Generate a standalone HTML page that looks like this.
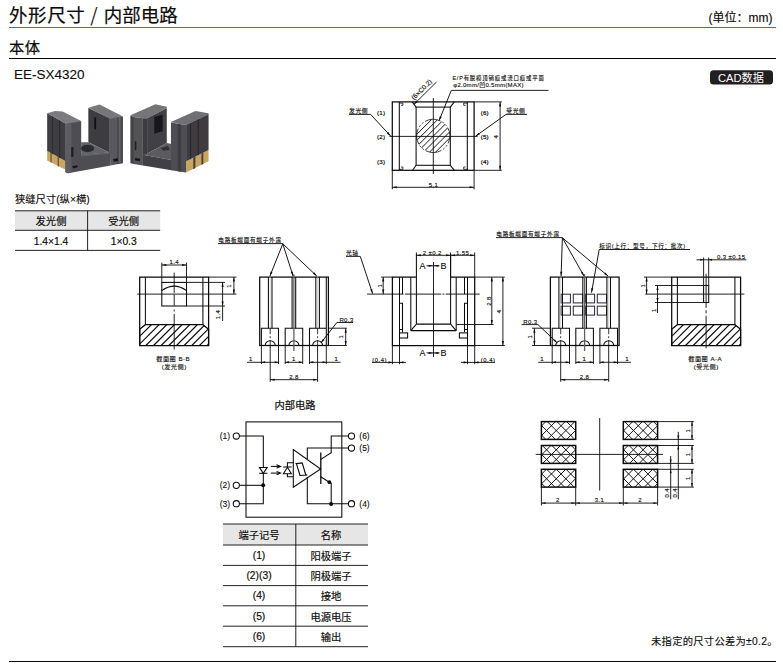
<!DOCTYPE html>
<html lang="zh-CN"><head><meta charset="utf-8"><title>外形尺寸 / 内部电路</title>
<style>
html,body{margin:0;padding:0;background:#fff}
body{width:783px;height:670px;overflow:hidden;position:relative}
svg{position:absolute;left:0;top:0;display:block}
svg text{font-family:"Liberation Sans","Noto Sans CJK SC",sans-serif}
</style></head><body>
<svg width="783" height="670" viewBox="0 0 783 670">
<defs><filter id="soft" x="-5%" y="-5%" width="110%" height="110%"><feGaussianBlur stdDeviation="0.45"/></filter></defs>
<text x="9" y="21.5" font-size="18.5" text-anchor="start" fill="#0c0a09" stroke="#0c0a09" stroke-width="0.2" letter-spacing="0.6">外形尺寸</text>
<text x="94" y="21.5" font-size="19" text-anchor="middle" fill="#231815" style="font-family:'Noto Sans CJK SC',sans-serif">/</text>
<text x="103.7" y="21.5" font-size="18.5" text-anchor="start" fill="#0c0a09" stroke="#0c0a09" stroke-width="0.2">内部电路</text>
<line x1="9" y1="27.5" x2="776" y2="27.5" stroke="#0b78f6" stroke-width="1.1"/>
<text x="772.5" y="22.2" font-size="12" text-anchor="end" fill="#0c0a09" stroke="#0c0a09" stroke-width="0.15">(单位：mm)</text>
<text x="9" y="52.5" font-size="15.3" text-anchor="start" fill="#0c0a09" stroke="#0c0a09" stroke-width="0.18" letter-spacing="0.5">本体</text>
<line x1="9" y1="58.5" x2="776" y2="58.5" stroke="#000" stroke-width="1.15"/>
<text x="14" y="78.6" font-size="13.5" text-anchor="start" fill="#0c0a09" stroke="#0c0a09" stroke-width="0.1">EE-SX4320</text>
<rect x="710" y="70.2" width="63" height="14.2" fill="#231f20" stroke="none" stroke-width="0" rx="3.5"/>
<text x="741" y="81.5" font-size="11.2" text-anchor="middle" fill="#fff">CAD数据</text>
<line x1="9" y1="661.5" x2="776" y2="661.5" stroke="#0c0a09" stroke-width="1"/>
<text x="651" y="645.3" font-size="10.3" text-anchor="start" fill="#0c0a09" stroke="#0c0a09" stroke-width="0.12" letter-spacing="0.27">未指定的尺寸公差为±0.2。</text>
<text x="15" y="203" font-size="10.3" text-anchor="start" fill="#0c0a09" stroke="#0c0a09" stroke-width="0.12">狭缝尺寸(纵×横)</text>
<rect x="15" y="210.8" width="145.2" height="19.5" fill="#e6e6e6" stroke="none" stroke-width="0"/>
<line x1="15" y1="210.8" x2="160.2" y2="210.8" stroke="#0c0a09" stroke-width="0.9"/>
<line x1="15" y1="230.3" x2="160.2" y2="230.3" stroke="#0c0a09" stroke-width="0.9"/>
<line x1="15" y1="250.4" x2="160.2" y2="250.4" stroke="#0c0a09" stroke-width="0.9"/>
<line x1="87.6" y1="210.8" x2="87.6" y2="250.4" stroke="#0c0a09" stroke-width="0.9"/>
<text x="51" y="224.5" font-size="10.3" text-anchor="middle" fill="#0c0a09" stroke="#0c0a09" stroke-width="0.17">发光侧</text>
<text x="123.7" y="224.5" font-size="10.3" text-anchor="middle" fill="#0c0a09" stroke="#0c0a09" stroke-width="0.17">受光侧</text>
<text x="51" y="244.6" font-size="10.3" text-anchor="middle" fill="#0c0a09" stroke="#0c0a09" stroke-width="0.17">1.4×1.4</text>
<text x="123.7" y="244.6" font-size="10.3" text-anchor="middle" fill="#0c0a09" stroke="#0c0a09" stroke-width="0.17">1×0.3</text>
<rect x="223" y="524" width="145" height="21" fill="#e6e6e6" stroke="none" stroke-width="0"/>
<line x1="223" y1="524" x2="368" y2="524" stroke="#0c0a09" stroke-width="0.9"/>
<line x1="223" y1="545" x2="368" y2="545" stroke="#0c0a09" stroke-width="0.9"/>
<line x1="223" y1="565.4" x2="368" y2="565.4" stroke="#0c0a09" stroke-width="0.9"/>
<line x1="223" y1="585.6" x2="368" y2="585.6" stroke="#0c0a09" stroke-width="0.9"/>
<line x1="223" y1="605.8" x2="368" y2="605.8" stroke="#0c0a09" stroke-width="0.9"/>
<line x1="223" y1="626.2" x2="368" y2="626.2" stroke="#0c0a09" stroke-width="0.9"/>
<line x1="223" y1="646.7" x2="368" y2="646.7" stroke="#0c0a09" stroke-width="0.9"/>
<line x1="295.8" y1="524" x2="295.8" y2="646.7" stroke="#0c0a09" stroke-width="0.9"/>
<text x="259" y="539.2" font-size="10.3" text-anchor="middle" fill="#0c0a09" stroke="#0c0a09" stroke-width="0.17">端子记号</text>
<text x="331" y="539.1" font-size="10.3" text-anchor="middle" fill="#0c0a09" stroke="#0c0a09" stroke-width="0.17">名称</text>
<text x="259" y="558.9" font-size="10.3" text-anchor="middle" fill="#0c0a09" stroke="#0c0a09" stroke-width="0.17">(1)</text>
<text x="331" y="559.8" font-size="10.3" text-anchor="middle" fill="#0c0a09" stroke="#0c0a09" stroke-width="0.17">阳极端子</text>
<text x="259" y="579.2" font-size="10.3" text-anchor="middle" fill="#0c0a09" stroke="#0c0a09" stroke-width="0.17">(2)(3)</text>
<text x="331" y="580.1" font-size="10.3" text-anchor="middle" fill="#0c0a09" stroke="#0c0a09" stroke-width="0.17">阴极端子</text>
<text x="259" y="599.4" font-size="10.3" text-anchor="middle" fill="#0c0a09" stroke="#0c0a09" stroke-width="0.17">(4)</text>
<text x="331" y="600.3" font-size="10.3" text-anchor="middle" fill="#0c0a09" stroke="#0c0a09" stroke-width="0.17">接地</text>
<text x="259" y="619.7" font-size="10.3" text-anchor="middle" fill="#0c0a09" stroke="#0c0a09" stroke-width="0.17">(5)</text>
<text x="331" y="620.6" font-size="10.3" text-anchor="middle" fill="#0c0a09" stroke="#0c0a09" stroke-width="0.17">电源电压</text>
<text x="259" y="640.15" font-size="10.3" text-anchor="middle" fill="#0c0a09" stroke="#0c0a09" stroke-width="0.17">(6)</text>
<text x="331" y="641.05" font-size="10.3" text-anchor="middle" fill="#0c0a09" stroke="#0c0a09" stroke-width="0.17">输出</text>
<rect x="392.3" y="101.9" width="81.8" height="68.4" fill="none" stroke="#0c0a09" stroke-width="1.25"/>
<line x1="399.3" y1="101.9" x2="399.3" y2="170.3" stroke="#0c0a09" stroke-width="1.05"/>
<line x1="467.3" y1="101.9" x2="467.3" y2="170.3" stroke="#0c0a09" stroke-width="1.05"/>
<rect x="416.1" y="107.1" width="34.2" height="58.2" fill="none" stroke="#0c0a09" stroke-width="1.05"/>
<line x1="412.2" y1="101.9" x2="416.1" y2="107.1" stroke="#0c0a09" stroke-width="1.05"/>
<line x1="454.4" y1="101.9" x2="450.3" y2="107.1" stroke="#0c0a09" stroke-width="1.05"/>
<line x1="412.6" y1="170.3" x2="416.1" y2="165.3" stroke="#0c0a09" stroke-width="1.05"/>
<line x1="454.4" y1="170.3" x2="450.3" y2="165.3" stroke="#0c0a09" stroke-width="1.05"/>
<polyline points="399.3,103.1 402.9,103.1 402.9,105.3 401.1,105.3" fill="none" stroke="#0c0a09" stroke-width="0.8"/>
<polyline points="399.3,169.3 402.9,169.3 402.9,167 401.1,167" fill="none" stroke="#0c0a09" stroke-width="0.8"/>
<polyline points="467.3,103.1 463.7,103.1 463.7,105.3 465.5,105.3" fill="none" stroke="#0c0a09" stroke-width="0.8"/>
<polyline points="467.3,169.3 463.7,169.3 463.7,167 465.5,167" fill="none" stroke="#0c0a09" stroke-width="0.8"/>
<line x1="389.5" y1="136.4" x2="477.5" y2="136.4" stroke="#0c0a09" stroke-width="0.9"/>
<line x1="433.3" y1="98" x2="433.3" y2="174" stroke="#0c0a09" stroke-width="0.9"/>
<clipPath id="hc1"><circle cx="433.25" cy="135.9" r="16.6"/></clipPath>
<g clip-path="url(#hc1)" stroke="#0c0a09" stroke-width="0.95">
<line x1="386.4" y1="152.5" x2="419.6" y2="119.3"/>
<line x1="392.5" y1="152.5" x2="425.7" y2="119.3"/>
<line x1="398.6" y1="152.5" x2="431.8" y2="119.3"/>
<line x1="404.7" y1="152.5" x2="437.9" y2="119.3"/>
<line x1="410.8" y1="152.5" x2="444" y2="119.3"/>
<line x1="416.9" y1="152.5" x2="450.1" y2="119.3"/>
<line x1="423" y1="152.5" x2="456.2" y2="119.3"/>
<line x1="429.1" y1="152.5" x2="462.3" y2="119.3"/>
<line x1="435.2" y1="152.5" x2="468.4" y2="119.3"/>
<line x1="441.3" y1="152.5" x2="474.5" y2="119.3"/>
<line x1="447.4" y1="152.5" x2="480.6" y2="119.3"/>
</g>
<circle cx="433.25" cy="135.9" r="16.6" fill="none" stroke="#0c0a09" stroke-width="0.7" stroke-dasharray="16 2 2 2 2 2" transform="rotate(150 433.25 135.9)"/>
<line x1="392.3" y1="170.3" x2="392.3" y2="189.3" stroke="#0c0a09" stroke-width="0.9"/>
<line x1="474.1" y1="170.3" x2="474.1" y2="189.3" stroke="#0c0a09" stroke-width="0.9"/>
<line x1="392.3" y1="187.3" x2="474.1" y2="187.3" stroke="#0c0a09" stroke-width="0.9"/>
<polygon points="392.3,187.3 396.8,186.25 396.8,188.35" fill="#0c0a09" stroke="none" stroke-width="0"/>
<polygon points="474.1,187.3 469.6,188.35 469.6,186.25" fill="#0c0a09" stroke="none" stroke-width="0"/>
<text x="433.5" y="187" font-size="6.0" text-anchor="middle" fill="#0c0a09" stroke="#0c0a09" stroke-width="0.13" letter-spacing="0.4">5.1</text>
<line x1="474.1" y1="101.9" x2="501.8" y2="101.9" stroke="#0c0a09" stroke-width="0.9"/>
<line x1="474.1" y1="170.3" x2="501.8" y2="170.3" stroke="#0c0a09" stroke-width="0.9"/>
<line x1="500.1" y1="101.9" x2="500.1" y2="170.3" stroke="#0c0a09" stroke-width="0.9"/>
<polygon points="500.1,101.9 501.15,106.4 499.05,106.4" fill="#0c0a09" stroke="none" stroke-width="0"/>
<polygon points="500.1,170.3 499.05,165.8 501.15,165.8" fill="#0c0a09" stroke="none" stroke-width="0"/>
<text x="498.1" y="136.5" font-size="6.0" text-anchor="middle" fill="#0c0a09" stroke="#0c0a09" stroke-width="0.13" letter-spacing="0.4" transform="rotate(-90 498.1 136.5)">4</text>
<text x="381.1" y="114.9" font-size="6.2" text-anchor="middle" fill="#0c0a09" stroke="#0c0a09" stroke-width="0.2" letter-spacing="0.15">(1)</text>
<text x="381.1" y="138.7" font-size="6.2" text-anchor="middle" fill="#0c0a09" stroke="#0c0a09" stroke-width="0.2" letter-spacing="0.15">(2)</text>
<text x="381.1" y="163.9" font-size="6.2" text-anchor="middle" fill="#0c0a09" stroke="#0c0a09" stroke-width="0.2" letter-spacing="0.15">(3)</text>
<text x="484.8" y="114.9" font-size="6.2" text-anchor="middle" fill="#0c0a09" stroke="#0c0a09" stroke-width="0.2" letter-spacing="0.15">(6)</text>
<text x="484.8" y="138.7" font-size="6.2" text-anchor="middle" fill="#0c0a09" stroke="#0c0a09" stroke-width="0.2" letter-spacing="0.15">(5)</text>
<text x="484.8" y="163.9" font-size="6.2" text-anchor="middle" fill="#0c0a09" stroke="#0c0a09" stroke-width="0.2" letter-spacing="0.15">(4)</text>
<text x="349" y="112.6" font-size="5.8" text-anchor="start" fill="#0c0a09" stroke="#0c0a09" stroke-width="0.12" letter-spacing="0.6">发光侧</text>
<line x1="349" y1="114.4" x2="370.6" y2="114.4" stroke="#0c0a09" stroke-width="0.9"/>
<line x1="370.6" y1="114.4" x2="390.6" y2="136" stroke="#0c0a09" stroke-width="0.95"/>
<polygon points="390.6,136 386.84,133.48 388.38,132.06" fill="#0c0a09" stroke="none" stroke-width="0"/>
<text x="506.3" y="112.6" font-size="5.8" text-anchor="start" fill="#0c0a09" stroke="#0c0a09" stroke-width="0.12" letter-spacing="0.6">受光侧</text>
<line x1="506" y1="114.4" x2="527" y2="114.4" stroke="#0c0a09" stroke-width="0.9"/>
<line x1="506" y1="114.4" x2="475.6" y2="136.2" stroke="#0c0a09" stroke-width="0.95"/>
<polygon points="475.6,136.2 478.56,132.78 479.79,134.49" fill="#0c0a09" stroke="none" stroke-width="0"/>
<line x1="436.4" y1="82.1" x2="413.9" y2="104.4" stroke="#0c0a09" stroke-width="0.9"/>
<polygon points="413.9,104.4 416.29,100.56 417.76,102.05" fill="#0c0a09" stroke="none" stroke-width="0"/>
<text x="423.2" y="91.2" font-size="6.6" text-anchor="middle" fill="#0c0a09" stroke="#0c0a09" stroke-width="0.13" transform="rotate(-45 423.2 91.2)">(6×C0.2)</text>
<text x="452.4" y="80.1" font-size="5.4" text-anchor="start" fill="#0c0a09" stroke="#0c0a09" stroke-width="0.12" letter-spacing="0.85">E/P有脱模顶销痕或浇口痕或平面</text>
<text x="453.2" y="87.4" font-size="6.0" text-anchor="start" fill="#0c0a09" stroke="#0c0a09" stroke-width="0.12" letter-spacing="0.3">φ2.0mm/凹0.5mm(MAX)</text>
<line x1="451.3" y1="90.4" x2="548.5" y2="90.4" stroke="#0c0a09" stroke-width="0.9"/>
<line x1="451.3" y1="90.4" x2="439.1" y2="120.6" stroke="#0c0a09" stroke-width="0.95"/>
<polygon points="439.1,120.6 439.77,116.13 441.72,116.91" fill="#0c0a09" stroke="none" stroke-width="0"/>
<polyline points="139.7,345.5 139.7,277.1 208.6,277.1 208.6,345.5" fill="none" stroke="#0c0a09" stroke-width="1.25"/>
<line x1="145.4" y1="277.1" x2="145.4" y2="324.7" stroke="#0c0a09" stroke-width="1.05"/>
<line x1="202.9" y1="277.1" x2="202.9" y2="324.7" stroke="#0c0a09" stroke-width="1.05"/>
<clipPath id="hb1"><polygon points="139.7,329.3 145.4,324.7 202.9,324.7 208.6,329.3 208.6,345.5 139.7,345.5"/></clipPath>
<g clip-path="url(#hb1)" stroke="#0c0a09" stroke-width="1.1">
<line x1="122.88" y1="345.5" x2="144.38" y2="324"/>
<line x1="130.54" y1="345.5" x2="152.04" y2="324"/>
<line x1="138.2" y1="345.5" x2="159.7" y2="324"/>
<line x1="145.86" y1="345.5" x2="167.36" y2="324"/>
<line x1="153.52" y1="345.5" x2="175.02" y2="324"/>
<line x1="161.18" y1="345.5" x2="182.68" y2="324"/>
<line x1="168.84" y1="345.5" x2="190.34" y2="324"/>
<line x1="176.5" y1="345.5" x2="198" y2="324"/>
<line x1="184.16" y1="345.5" x2="205.66" y2="324"/>
<line x1="191.82" y1="345.5" x2="213.32" y2="324"/>
<line x1="199.48" y1="345.5" x2="220.98" y2="324"/>
<line x1="207.14" y1="345.5" x2="228.64" y2="324"/>
</g>
<polygon points="139.7,329.3 145.4,324.7 202.9,324.7 208.6,329.3 208.6,345.5 139.7,345.5" fill="none" stroke="#0c0a09" stroke-width="1.25"/>
<rect x="161.8" y="282.4" width="24.7" height="23.6" fill="none" stroke="#0c0a09" stroke-width="1.05"/>
<path d="M161.8,290.6 Q174.2,281.6 186.5,290.6" fill="none" stroke="#0c0a09" stroke-width="1.05"/>
<line x1="137.3" y1="294.1" x2="208.6" y2="294.1" stroke="#0c0a09" stroke-width="0.9"/>
<line x1="174.2" y1="272.6" x2="174.2" y2="349.5" stroke="#0c0a09" stroke-width="0.9" stroke-dasharray="20.3 1.4 11.4 3.8 2 2.4 100" stroke-dashoffset="0"/>
<line x1="161.8" y1="262.6" x2="161.8" y2="282.4" stroke="#0c0a09" stroke-width="0.9"/>
<line x1="186.5" y1="262.6" x2="186.5" y2="282.4" stroke="#0c0a09" stroke-width="0.9"/>
<line x1="161.8" y1="265" x2="186.5" y2="265" stroke="#0c0a09" stroke-width="0.9"/>
<polygon points="161.8,265 166.3,263.95 166.3,266.05" fill="#0c0a09" stroke="none" stroke-width="0"/>
<polygon points="186.5,265 182,266.05 182,263.95" fill="#0c0a09" stroke="none" stroke-width="0"/>
<text x="174.2" y="263.6" font-size="6.0" text-anchor="middle" fill="#0c0a09" stroke="#0c0a09" stroke-width="0.13" letter-spacing="0.4">1.4</text>
<line x1="208.6" y1="277.1" x2="236.4" y2="277.1" stroke="#0c0a09" stroke-width="0.9"/>
<line x1="208.6" y1="294.1" x2="236.4" y2="294.1" stroke="#0c0a09" stroke-width="0.9"/>
<line x1="233.9" y1="277.1" x2="233.9" y2="294.1" stroke="#0c0a09" stroke-width="0.9"/>
<polygon points="233.9,277.1 234.95,281.6 232.85,281.6" fill="#0c0a09" stroke="none" stroke-width="0"/>
<polygon points="233.9,294.1 232.85,289.6 234.95,289.6" fill="#0c0a09" stroke="none" stroke-width="0"/>
<text x="231.5" y="285.8" font-size="6.0" text-anchor="middle" fill="#0c0a09" stroke="#0c0a09" stroke-width="0.13" letter-spacing="0.4" transform="rotate(-90 231.5 285.8)">1</text>
<line x1="186.5" y1="282.4" x2="225" y2="282.4" stroke="#0c0a09" stroke-width="0.9"/>
<line x1="186.5" y1="306" x2="225" y2="306" stroke="#0c0a09" stroke-width="0.9"/>
<line x1="222.6" y1="282.4" x2="222.6" y2="306" stroke="#0c0a09" stroke-width="0.9"/>
<polygon points="222.6,282.4 223.65,286.9 221.55,286.9" fill="#0c0a09" stroke="none" stroke-width="0"/>
<polygon points="222.6,306 221.55,301.5 223.65,301.5" fill="#0c0a09" stroke="none" stroke-width="0"/>
<line x1="222.6" y1="306" x2="222.6" y2="321" stroke="#0c0a09" stroke-width="0.9"/>
<text x="220.1" y="314.5" font-size="6.0" text-anchor="middle" fill="#0c0a09" stroke="#0c0a09" stroke-width="0.13" letter-spacing="0.4" transform="rotate(-90 220.1 314.5)">1.4</text>
<text x="173.2" y="361.3" font-size="6.2" text-anchor="middle" fill="#0c0a09" stroke="#0c0a09" stroke-width="0.12" letter-spacing="0.45">截面图 B-B</text>
<text x="174.2" y="369.3" font-size="6.2" text-anchor="middle" fill="#0c0a09" stroke="#0c0a09" stroke-width="0.12" letter-spacing="0.45">(发光侧)</text>
<rect x="259.7" y="277.1" width="68.7" height="68.4" fill="none" stroke="#0c0a09" stroke-width="1.25"/>
<line x1="268.4" y1="277.1" x2="268.4" y2="328.2" stroke="#0c0a09" stroke-width="1.05"/>
<line x1="272" y1="277.1" x2="272" y2="328.2" stroke="#0c0a09" stroke-width="1.05"/>
<line x1="292.1" y1="277.1" x2="292.1" y2="328.2" stroke="#0c0a09" stroke-width="1.05"/>
<line x1="295.7" y1="277.1" x2="295.7" y2="328.2" stroke="#0c0a09" stroke-width="1.05"/>
<line x1="315.8" y1="277.1" x2="315.8" y2="328.2" stroke="#0c0a09" stroke-width="1.05"/>
<line x1="319.4" y1="277.1" x2="319.4" y2="328.2" stroke="#0c0a09" stroke-width="1.05"/>
<polyline points="261.4,345.5 261.4,328.2 278.5,328.2 278.5,345.5" fill="none" stroke="#0c0a09" stroke-width="1.05"/>
<path d="M265.2,345.5 A5.0,4.7 0 0 1 275.2,345.5" fill="none" stroke="#0c0a09" stroke-width="1.05"/>
<polyline points="285.2,345.5 285.2,328.2 302.7,328.2 302.7,345.5" fill="none" stroke="#0c0a09" stroke-width="1.05"/>
<path d="M288.9,345.5 A5.0,4.7 0 0 1 298.9,345.5" fill="none" stroke="#0c0a09" stroke-width="1.05"/>
<polyline points="309.5,345.5 309.5,328.2 326.3,328.2 326.3,345.5" fill="none" stroke="#0c0a09" stroke-width="1.05"/>
<path d="M312.6,345.5 A5.0,4.7 0 0 1 322.6,345.5" fill="none" stroke="#0c0a09" stroke-width="1.05"/>
<line x1="326.3" y1="277.1" x2="326.3" y2="328.2" stroke="#0c0a09" stroke-width="1.05"/>
<line x1="270.2" y1="277.1" x2="270.2" y2="328.2" stroke="#b0b0b0" stroke-width="0.5"/>
<line x1="270.2" y1="328.2" x2="270.2" y2="345.5" stroke="#0c0a09" stroke-width="0.8" stroke-dasharray="6 2 2 2" stroke-dashoffset="0"/>
<line x1="317.6" y1="277.1" x2="317.6" y2="328.2" stroke="#b0b0b0" stroke-width="0.5"/>
<line x1="317.6" y1="328.2" x2="317.6" y2="345.5" stroke="#0c0a09" stroke-width="0.8" stroke-dasharray="6 2 2 2" stroke-dashoffset="0"/>
<line x1="293.9" y1="274.1" x2="293.9" y2="351" stroke="#606060" stroke-width="1.3"/>
<text x="218.3" y="242" font-size="5.6" text-anchor="start" fill="#0c0a09" stroke="#0c0a09" stroke-width="0.12" letter-spacing="0.75">电路板端面有端子外露</text>
<line x1="218" y1="243.6" x2="282.8" y2="243.6" stroke="#0c0a09" stroke-width="0.9"/>
<line x1="282.8" y1="243.8" x2="269.9" y2="276.1" stroke="#0c0a09" stroke-width="0.95"/>
<polygon points="269.9,276.1 270.56,271.62 272.51,272.4" fill="#0c0a09" stroke="none" stroke-width="0"/>
<line x1="282.8" y1="243.8" x2="293.1" y2="276.1" stroke="#0c0a09" stroke-width="0.95"/>
<polygon points="293.1,276.1 290.76,272.23 292.76,271.59" fill="#0c0a09" stroke="none" stroke-width="0"/>
<line x1="282.8" y1="243.8" x2="316.8" y2="276.1" stroke="#0c0a09" stroke-width="0.95"/>
<polygon points="316.8,276.1 312.89,273.83 314.33,272.31" fill="#0c0a09" stroke="none" stroke-width="0"/>
<text x="339.4" y="321.5" font-size="6.0" text-anchor="start" fill="#0c0a09" stroke="#0c0a09" stroke-width="0.13" letter-spacing="0.4">R0.3</text>
<line x1="336.9" y1="322.5" x2="353" y2="322.5" stroke="#0c0a09" stroke-width="0.9"/>
<line x1="336.9" y1="322.5" x2="321" y2="342.8" stroke="#0c0a09" stroke-width="0.95"/>
<polygon points="321,342.8 322.89,338.69 324.54,339.98" fill="#0c0a09" stroke="none" stroke-width="0"/>
<line x1="328.4" y1="328.2" x2="346.9" y2="328.2" stroke="#0c0a09" stroke-width="0.9"/>
<line x1="328.4" y1="345.5" x2="346.9" y2="345.5" stroke="#0c0a09" stroke-width="0.9"/>
<line x1="345.7" y1="328.2" x2="345.7" y2="345.5" stroke="#0c0a09" stroke-width="0.9"/>
<polygon points="345.7,328.2 346.75,332.7 344.65,332.7" fill="#0c0a09" stroke="none" stroke-width="0"/>
<polygon points="345.7,345.5 344.65,341 346.75,341" fill="#0c0a09" stroke="none" stroke-width="0"/>
<text x="342.7" y="336.6" font-size="6.0" text-anchor="middle" fill="#0c0a09" stroke="#0c0a09" stroke-width="0.13" letter-spacing="0.4" transform="rotate(-90 342.7 336.6)">1</text>
<line x1="261.4" y1="345.5" x2="261.4" y2="364" stroke="#0c0a09" stroke-width="0.9"/>
<line x1="278.5" y1="345.5" x2="278.5" y2="364" stroke="#0c0a09" stroke-width="0.9"/>
<line x1="285.2" y1="345.5" x2="285.2" y2="364" stroke="#0c0a09" stroke-width="0.9"/>
<line x1="302.7" y1="345.5" x2="302.7" y2="364" stroke="#0c0a09" stroke-width="0.9"/>
<line x1="309.5" y1="345.5" x2="309.5" y2="364" stroke="#0c0a09" stroke-width="0.9"/>
<line x1="326.3" y1="345.5" x2="326.3" y2="364" stroke="#0c0a09" stroke-width="0.9"/>
<line x1="247" y1="362.3" x2="278.5" y2="362.3" stroke="#0c0a09" stroke-width="0.9"/>
<line x1="285.2" y1="362.3" x2="302.7" y2="362.3" stroke="#0c0a09" stroke-width="0.9"/>
<line x1="309.5" y1="362.3" x2="340.5" y2="362.3" stroke="#0c0a09" stroke-width="0.9"/>
<polygon points="261.4,362.3 265.2,361.25 265.2,363.35" fill="#0c0a09" stroke="none" stroke-width="0"/>
<polygon points="278.5,362.3 274.7,363.35 274.7,361.25" fill="#0c0a09" stroke="none" stroke-width="0"/>
<polygon points="285.2,362.3 289,361.25 289,363.35" fill="#0c0a09" stroke="none" stroke-width="0"/>
<polygon points="302.7,362.3 298.9,363.35 298.9,361.25" fill="#0c0a09" stroke="none" stroke-width="0"/>
<polygon points="309.5,362.3 313.3,361.25 313.3,363.35" fill="#0c0a09" stroke="none" stroke-width="0"/>
<polygon points="326.3,362.3 322.5,363.35 322.5,361.25" fill="#0c0a09" stroke="none" stroke-width="0"/>
<text x="250.8" y="361.2" font-size="6.0" text-anchor="middle" fill="#0c0a09" stroke="#0c0a09" stroke-width="0.13" letter-spacing="0.4">1</text>
<text x="293.9" y="361.2" font-size="6.0" text-anchor="middle" fill="#0c0a09" stroke="#0c0a09" stroke-width="0.13" letter-spacing="0.4">1</text>
<text x="336.3" y="361.2" font-size="6.0" text-anchor="middle" fill="#0c0a09" stroke="#0c0a09" stroke-width="0.13" letter-spacing="0.4">1</text>
<line x1="270.2" y1="345.5" x2="270.2" y2="381.8" stroke="#0c0a09" stroke-width="0.9"/>
<line x1="317.6" y1="345.5" x2="317.6" y2="381.8" stroke="#0c0a09" stroke-width="0.9"/>
<line x1="270.2" y1="379.7" x2="317.6" y2="379.7" stroke="#0c0a09" stroke-width="0.9"/>
<polygon points="270.2,379.7 274.7,378.65 274.7,380.75" fill="#0c0a09" stroke="none" stroke-width="0"/>
<polygon points="317.6,379.7 313.1,380.75 313.1,378.65" fill="#0c0a09" stroke="none" stroke-width="0"/>
<text x="293.9" y="378.7" font-size="6.0" text-anchor="middle" fill="#0c0a09" stroke="#0c0a09" stroke-width="0.13" letter-spacing="0.4">2.8</text>
<polyline points="416.4,277.1 392.4,277.1 392.4,345.5 474.7,345.5 474.7,277.1 450.6,277.1" fill="none" stroke="#0c0a09" stroke-width="1.25"/>
<line x1="399.5" y1="277.1" x2="399.5" y2="345.5" stroke="#0c0a09" stroke-width="1.05"/>
<polyline points="402.5,277.1 402.5,294.1" fill="none" stroke="#0c0a09" stroke-width="1.05"/>
<polyline points="399.5,303.3 402.5,303.3 402.5,332.2" fill="none" stroke="#0c0a09" stroke-width="1.05"/>
<line x1="399.5" y1="329.5" x2="402.5" y2="329.5" stroke="#0c0a09" stroke-width="1.05"/>
<rect x="399.5" y="332.9" width="8.1" height="5.1" fill="none" stroke="#0c0a09" stroke-width="1.05"/>
<line x1="410.8" y1="277.1" x2="410.8" y2="330.6" stroke="#0c0a09" stroke-width="1.05"/>
<line x1="416.4" y1="254" x2="416.4" y2="324.1" stroke="#0c0a09" stroke-width="1.05"/>
<line x1="416.4" y1="324.1" x2="410.8" y2="330.6" stroke="#0c0a09" stroke-width="1.05"/>
<line x1="467.5" y1="277.1" x2="467.5" y2="345.5" stroke="#0c0a09" stroke-width="1.05"/>
<polyline points="464.5,277.1 464.5,294.1" fill="none" stroke="#0c0a09" stroke-width="1.05"/>
<polyline points="467.5,303.3 464.5,303.3 464.5,332.2" fill="none" stroke="#0c0a09" stroke-width="1.05"/>
<line x1="467.5" y1="329.5" x2="464.5" y2="329.5" stroke="#0c0a09" stroke-width="1.05"/>
<rect x="459.4" y="332.9" width="8.1" height="5.1" fill="none" stroke="#0c0a09" stroke-width="1.05"/>
<line x1="456.2" y1="277.1" x2="456.2" y2="330.6" stroke="#0c0a09" stroke-width="1.05"/>
<line x1="450.6" y1="254" x2="450.6" y2="324.1" stroke="#0c0a09" stroke-width="1.05"/>
<line x1="450.6" y1="324.1" x2="456.2" y2="330.6" stroke="#0c0a09" stroke-width="1.05"/>
<line x1="416.4" y1="324.1" x2="450.6" y2="324.1" stroke="#0c0a09" stroke-width="1.05"/>
<line x1="410.8" y1="330.6" x2="456.2" y2="330.6" stroke="#0c0a09" stroke-width="1.05"/>
<line x1="367" y1="294.1" x2="479.7" y2="294.1" stroke="#0c0a09" stroke-width="0.9" stroke-dasharray="36.6 1.3 36.4 1.2 2 1.2 100" stroke-dashoffset="0"/>
<line x1="433.5" y1="262" x2="433.5" y2="357" stroke="#0c0a09" stroke-width="0.9"/>
<text x="346" y="255.4" font-size="5.7" text-anchor="start" fill="#0c0a09" stroke="#0c0a09" stroke-width="0.12" letter-spacing="0.6">光轴</text>
<line x1="346" y1="256.4" x2="360.3" y2="256.4" stroke="#0c0a09" stroke-width="0.9"/>
<line x1="360.3" y1="256.4" x2="372.6" y2="293.6" stroke="#0c0a09" stroke-width="0.95"/>
<polygon points="372.6,293.6 370.22,289.75 372.22,289.09" fill="#0c0a09" stroke="none" stroke-width="0"/>
<line x1="381.2" y1="277.1" x2="392.4" y2="277.1" stroke="#0c0a09" stroke-width="0.9"/>
<line x1="383.2" y1="277.1" x2="383.2" y2="294.1" stroke="#0c0a09" stroke-width="0.9"/>
<polygon points="383.2,277.1 384.25,281.6 382.15,281.6" fill="#0c0a09" stroke="none" stroke-width="0"/>
<polygon points="383.2,294.1 382.15,289.6 384.25,289.6" fill="#0c0a09" stroke="none" stroke-width="0"/>
<text x="381.6" y="285.7" font-size="6.0" text-anchor="middle" fill="#0c0a09" stroke="#0c0a09" stroke-width="0.13" letter-spacing="0.4" transform="rotate(-90 381.6 285.7)">1</text>
<line x1="450.6" y1="252.4" x2="450.6" y2="277.1" stroke="#0c0a09" stroke-width="0.9"/>
<line x1="474.7" y1="252.4" x2="474.7" y2="277.1" stroke="#0c0a09" stroke-width="0.9"/>
<line x1="416.4" y1="252.4" x2="416.4" y2="254" stroke="#0c0a09" stroke-width="0.9"/>
<line x1="416.4" y1="255.3" x2="450.6" y2="255.3" stroke="#0c0a09" stroke-width="0.9"/>
<polygon points="416.4,255.3 420.9,254.25 420.9,256.35" fill="#0c0a09" stroke="none" stroke-width="0"/>
<polygon points="450.6,255.3 446.1,256.35 446.1,254.25" fill="#0c0a09" stroke="none" stroke-width="0"/>
<line x1="450.6" y1="255.3" x2="474.7" y2="255.3" stroke="#0c0a09" stroke-width="0.9"/>
<polygon points="450.6,255.3 455.1,254.25 455.1,256.35" fill="#0c0a09" stroke="none" stroke-width="0"/>
<polygon points="474.7,255.3 470.2,256.35 470.2,254.25" fill="#0c0a09" stroke="none" stroke-width="0"/>
<text x="432.2" y="254.9" font-size="6.0" text-anchor="middle" fill="#0c0a09" stroke="#0c0a09" stroke-width="0.13" letter-spacing="0.4">2 ±0.2</text>
<text x="462.6" y="254.9" font-size="6.0" text-anchor="middle" fill="#0c0a09" stroke="#0c0a09" stroke-width="0.13" letter-spacing="0.4">1.55</text>
<text x="422.5" y="268.9" font-size="9" text-anchor="middle" fill="#0c0a09" stroke="#0c0a09" stroke-width="0.1">A</text>
<text x="443.4" y="268.9" font-size="9" text-anchor="middle" fill="#0c0a09" stroke="#0c0a09" stroke-width="0.1">B</text>
<line x1="426.5" y1="265.8" x2="439.5" y2="265.8" stroke="#0c0a09" stroke-width="0.9"/>
<polygon points="433.2,265.8 428.6,266.8 428.6,264.8" fill="#0c0a09" stroke="none" stroke-width="0"/>
<polygon points="433.8,265.8 438.4,264.8 438.4,266.8" fill="#0c0a09" stroke="none" stroke-width="0"/>
<text x="422.5" y="356" font-size="9" text-anchor="middle" fill="#0c0a09" stroke="#0c0a09" stroke-width="0.1">A</text>
<text x="443.4" y="356" font-size="9" text-anchor="middle" fill="#0c0a09" stroke="#0c0a09" stroke-width="0.1">B</text>
<line x1="426.5" y1="352.9" x2="439.5" y2="352.9" stroke="#0c0a09" stroke-width="0.9"/>
<polygon points="433.2,352.9 428.6,353.9 428.6,351.9" fill="#0c0a09" stroke="none" stroke-width="0"/>
<polygon points="433.8,352.9 438.4,351.9 438.4,353.9" fill="#0c0a09" stroke="none" stroke-width="0"/>
<line x1="456.2" y1="324.5" x2="493.5" y2="324.5" stroke="#0c0a09" stroke-width="0.9"/>
<line x1="474.7" y1="277.1" x2="504.8" y2="277.1" stroke="#0c0a09" stroke-width="0.9"/>
<line x1="474.7" y1="345.5" x2="504.8" y2="345.5" stroke="#0c0a09" stroke-width="0.9"/>
<line x1="491.8" y1="277.1" x2="491.8" y2="324.5" stroke="#0c0a09" stroke-width="0.9"/>
<polygon points="491.8,277.1 492.85,281.6 490.75,281.6" fill="#0c0a09" stroke="none" stroke-width="0"/>
<polygon points="491.8,324.5 490.75,320 492.85,320" fill="#0c0a09" stroke="none" stroke-width="0"/>
<text x="491" y="301" font-size="6.0" text-anchor="middle" fill="#0c0a09" stroke="#0c0a09" stroke-width="0.13" letter-spacing="0.4" transform="rotate(-90 491 301)">2.8</text>
<line x1="502.9" y1="277.1" x2="502.9" y2="345.5" stroke="#0c0a09" stroke-width="0.9"/>
<polygon points="502.9,277.1 503.95,281.6 501.85,281.6" fill="#0c0a09" stroke="none" stroke-width="0"/>
<polygon points="502.9,345.5 501.85,341 503.95,341" fill="#0c0a09" stroke="none" stroke-width="0"/>
<text x="501.4" y="311.3" font-size="6.0" text-anchor="middle" fill="#0c0a09" stroke="#0c0a09" stroke-width="0.13" letter-spacing="0.4" transform="rotate(-90 501.4 311.3)">4</text>
<line x1="392.4" y1="345.5" x2="392.4" y2="364.2" stroke="#0c0a09" stroke-width="0.9"/>
<line x1="399.5" y1="345.5" x2="399.5" y2="364.2" stroke="#0c0a09" stroke-width="0.9"/>
<line x1="474.7" y1="345.5" x2="474.7" y2="364.2" stroke="#0c0a09" stroke-width="0.9"/>
<line x1="467.5" y1="345.5" x2="467.5" y2="364.2" stroke="#0c0a09" stroke-width="0.9"/>
<line x1="372" y1="362.4" x2="406" y2="362.4" stroke="#0c0a09" stroke-width="0.9"/>
<polygon points="392.4,362.4 388.6,363.45 388.6,361.35" fill="#0c0a09" stroke="none" stroke-width="0"/>
<polygon points="399.5,362.4 403.3,361.35 403.3,363.45" fill="#0c0a09" stroke="none" stroke-width="0"/>
<line x1="461" y1="362.4" x2="495" y2="362.4" stroke="#0c0a09" stroke-width="0.9"/>
<polygon points="467.5,362.4 463.7,363.45 463.7,361.35" fill="#0c0a09" stroke="none" stroke-width="0"/>
<polygon points="474.7,362.4 478.5,361.35 478.5,363.45" fill="#0c0a09" stroke="none" stroke-width="0"/>
<text x="379.6" y="361.5" font-size="5.9" text-anchor="middle" fill="#0c0a09" stroke="#0c0a09" stroke-width="0.13" letter-spacing="0.5">(0.4)</text>
<text x="488.1" y="361.5" font-size="5.9" text-anchor="middle" fill="#0c0a09" stroke="#0c0a09" stroke-width="0.13" letter-spacing="0.5">(0.4)</text>
<rect x="561.1" y="294.2" width="9.3" height="8.7" fill="none" stroke="#26263a" stroke-width="1.0"/>
<rect x="561.1" y="306.2" width="9.3" height="8.9" fill="none" stroke="#26263a" stroke-width="1.0"/>
<rect x="573.3" y="294.2" width="9.3" height="8.7" fill="none" stroke="#26263a" stroke-width="1.0"/>
<rect x="573.3" y="306.2" width="9.3" height="8.9" fill="none" stroke="#26263a" stroke-width="1.0"/>
<rect x="585.6" y="294.2" width="9" height="8.7" fill="none" stroke="#26263a" stroke-width="1.0"/>
<rect x="585.6" y="306.2" width="9" height="8.9" fill="none" stroke="#26263a" stroke-width="1.0"/>
<rect x="597.3" y="294.2" width="9.2" height="8.7" fill="none" stroke="#26263a" stroke-width="1.0"/>
<rect x="597.3" y="306.2" width="9.2" height="8.9" fill="none" stroke="#26263a" stroke-width="1.0"/>
<rect x="550.4" y="277.1" width="68.7" height="68.4" fill="none" stroke="#0c0a09" stroke-width="1.25"/>
<line x1="558.9" y1="277.1" x2="558.9" y2="328.2" stroke="#0c0a09" stroke-width="1.05"/>
<line x1="562.5" y1="277.1" x2="562.5" y2="328.2" stroke="#0c0a09" stroke-width="1.05"/>
<line x1="582.8" y1="277.1" x2="582.8" y2="328.2" stroke="#0c0a09" stroke-width="1.05"/>
<line x1="586.4" y1="277.1" x2="586.4" y2="328.2" stroke="#0c0a09" stroke-width="1.05"/>
<line x1="606.9" y1="277.1" x2="606.9" y2="328.2" stroke="#0c0a09" stroke-width="1.05"/>
<line x1="610.5" y1="277.1" x2="610.5" y2="328.2" stroke="#0c0a09" stroke-width="1.05"/>
<polyline points="552.2,345.5 552.2,328.2 569.5,328.2 569.5,345.5" fill="none" stroke="#0c0a09" stroke-width="1.05"/>
<path d="M555.7,345.5 A5.0,4.7 0 0 1 565.7,345.5" fill="none" stroke="#0c0a09" stroke-width="1.05"/>
<polyline points="575.8,345.5 575.8,328.2 593.4,328.2 593.4,345.5" fill="none" stroke="#0c0a09" stroke-width="1.05"/>
<path d="M579.6,345.5 A5.0,4.7 0 0 1 589.6,345.5" fill="none" stroke="#0c0a09" stroke-width="1.05"/>
<polyline points="599.9,345.5 599.9,328.2 617.5,328.2 617.5,345.5" fill="none" stroke="#0c0a09" stroke-width="1.05"/>
<path d="M603.7,345.5 A5.0,4.7 0 0 1 613.7,345.5" fill="none" stroke="#0c0a09" stroke-width="1.05"/>
<line x1="560.7" y1="277.1" x2="560.7" y2="328.2" stroke="#b0b0b0" stroke-width="0.5"/>
<line x1="560.7" y1="328.2" x2="560.7" y2="345.5" stroke="#0c0a09" stroke-width="0.8" stroke-dasharray="6 2 2 2" stroke-dashoffset="0"/>
<line x1="608.7" y1="277.1" x2="608.7" y2="328.2" stroke="#b0b0b0" stroke-width="0.5"/>
<line x1="608.7" y1="328.2" x2="608.7" y2="345.5" stroke="#0c0a09" stroke-width="0.8" stroke-dasharray="6 2 2 2" stroke-dashoffset="0"/>
<line x1="584.6" y1="274.1" x2="584.6" y2="351" stroke="#606060" stroke-width="1.3"/>
<text x="496.3" y="236.3" font-size="5.6" text-anchor="start" fill="#0c0a09" stroke="#0c0a09" stroke-width="0.12" letter-spacing="0.75">电路板端面有端子外露</text>
<line x1="496" y1="237.6" x2="562.4" y2="237.6" stroke="#0c0a09" stroke-width="0.9"/>
<line x1="562.4" y1="237.8" x2="561.1" y2="276.1" stroke="#0c0a09" stroke-width="0.95"/>
<polygon points="561.1,276.1 560.2,271.67 562.3,271.74" fill="#0c0a09" stroke="none" stroke-width="0"/>
<line x1="562.4" y1="237.8" x2="584" y2="276.1" stroke="#0c0a09" stroke-width="0.95"/>
<polygon points="584,276.1 580.92,272.78 582.75,271.75" fill="#0c0a09" stroke="none" stroke-width="0"/>
<line x1="562.4" y1="237.8" x2="608.1" y2="276.1" stroke="#0c0a09" stroke-width="0.95"/>
<polygon points="608.1,276.1 604.05,274.08 605.4,272.47" fill="#0c0a09" stroke="none" stroke-width="0"/>
<text x="599.2" y="248.2" font-size="5.6" text-anchor="start" fill="#0c0a09" stroke="#0c0a09" stroke-width="0.12" letter-spacing="0.68">标识(上行：型号，下行：批次)</text>
<line x1="599.2" y1="249.5" x2="690" y2="249.5" stroke="#0c0a09" stroke-width="0.9"/>
<line x1="599.2" y1="249.5" x2="591.5" y2="292.6" stroke="#0c0a09" stroke-width="0.95"/>
<polygon points="591.5,292.6 591.24,288.08 593.31,288.45" fill="#0c0a09" stroke="none" stroke-width="0"/>
<text x="523.2" y="323.9" font-size="6.0" text-anchor="start" fill="#0c0a09" stroke="#0c0a09" stroke-width="0.13" letter-spacing="0.4">R0.3</text>
<line x1="521.6" y1="324.6" x2="538" y2="324.6" stroke="#0c0a09" stroke-width="0.9"/>
<line x1="538" y1="324.6" x2="557.3" y2="343" stroke="#0c0a09" stroke-width="0.95"/>
<polygon points="557.3,343 553.39,340.72 554.84,339.2" fill="#0c0a09" stroke="none" stroke-width="0"/>
<line x1="532" y1="328.2" x2="550.4" y2="328.2" stroke="#0c0a09" stroke-width="0.9"/>
<line x1="532" y1="345.5" x2="550.4" y2="345.5" stroke="#0c0a09" stroke-width="0.9"/>
<line x1="534.4" y1="328.2" x2="534.4" y2="345.5" stroke="#0c0a09" stroke-width="0.9"/>
<polygon points="534.4,328.2 535.45,332.7 533.35,332.7" fill="#0c0a09" stroke="none" stroke-width="0"/>
<polygon points="534.4,345.5 533.35,341 535.45,341" fill="#0c0a09" stroke="none" stroke-width="0"/>
<text x="531.8" y="336.6" font-size="6.0" text-anchor="middle" fill="#0c0a09" stroke="#0c0a09" stroke-width="0.13" letter-spacing="0.4" transform="rotate(-90 531.8 336.6)">1</text>
<line x1="552.2" y1="345.5" x2="552.2" y2="364" stroke="#0c0a09" stroke-width="0.9"/>
<line x1="569.5" y1="345.5" x2="569.5" y2="364" stroke="#0c0a09" stroke-width="0.9"/>
<line x1="575.8" y1="345.5" x2="575.8" y2="364" stroke="#0c0a09" stroke-width="0.9"/>
<line x1="593.4" y1="345.5" x2="593.4" y2="364" stroke="#0c0a09" stroke-width="0.9"/>
<line x1="599.9" y1="345.5" x2="599.9" y2="364" stroke="#0c0a09" stroke-width="0.9"/>
<line x1="617.5" y1="345.5" x2="617.5" y2="364" stroke="#0c0a09" stroke-width="0.9"/>
<line x1="538.2" y1="362.3" x2="569.5" y2="362.3" stroke="#0c0a09" stroke-width="0.9"/>
<line x1="575.8" y1="362.3" x2="593.4" y2="362.3" stroke="#0c0a09" stroke-width="0.9"/>
<line x1="599.9" y1="362.3" x2="631" y2="362.3" stroke="#0c0a09" stroke-width="0.9"/>
<polygon points="552.2,362.3 556,361.25 556,363.35" fill="#0c0a09" stroke="none" stroke-width="0"/>
<polygon points="569.5,362.3 565.7,363.35 565.7,361.25" fill="#0c0a09" stroke="none" stroke-width="0"/>
<polygon points="575.8,362.3 579.6,361.25 579.6,363.35" fill="#0c0a09" stroke="none" stroke-width="0"/>
<polygon points="593.4,362.3 589.6,363.35 589.6,361.25" fill="#0c0a09" stroke="none" stroke-width="0"/>
<polygon points="599.9,362.3 603.7,361.25 603.7,363.35" fill="#0c0a09" stroke="none" stroke-width="0"/>
<polygon points="617.5,362.3 613.7,363.35 613.7,361.25" fill="#0c0a09" stroke="none" stroke-width="0"/>
<text x="542" y="361.2" font-size="6.0" text-anchor="middle" fill="#0c0a09" stroke="#0c0a09" stroke-width="0.13" letter-spacing="0.4">1</text>
<text x="584.4" y="361.2" font-size="6.0" text-anchor="middle" fill="#0c0a09" stroke="#0c0a09" stroke-width="0.13" letter-spacing="0.4">1</text>
<text x="627.1" y="361.2" font-size="6.0" text-anchor="middle" fill="#0c0a09" stroke="#0c0a09" stroke-width="0.13" letter-spacing="0.4">1</text>
<line x1="560.7" y1="345.5" x2="560.7" y2="381.8" stroke="#0c0a09" stroke-width="0.9"/>
<line x1="608.7" y1="345.5" x2="608.7" y2="381.8" stroke="#0c0a09" stroke-width="0.9"/>
<line x1="560.7" y1="379.7" x2="608.7" y2="379.7" stroke="#0c0a09" stroke-width="0.9"/>
<polygon points="560.7,379.7 565.2,378.65 565.2,380.75" fill="#0c0a09" stroke="none" stroke-width="0"/>
<polygon points="608.7,379.7 604.2,380.75 604.2,378.65" fill="#0c0a09" stroke="none" stroke-width="0"/>
<text x="584.6" y="378.7" font-size="6.0" text-anchor="middle" fill="#0c0a09" stroke="#0c0a09" stroke-width="0.13" letter-spacing="0.4">2.8</text>
<polyline points="671.7,345.5 671.7,277.1 740.6,277.1 740.6,345.5" fill="none" stroke="#0c0a09" stroke-width="1.25"/>
<line x1="677.4" y1="277.1" x2="677.4" y2="324.7" stroke="#0c0a09" stroke-width="1.05"/>
<line x1="734.9" y1="277.1" x2="734.9" y2="324.7" stroke="#0c0a09" stroke-width="1.05"/>
<clipPath id="hb5"><polygon points="671.7,329.3 677.4,324.7 734.9,324.7 740.6,329.3 740.6,345.5 671.7,345.5"/></clipPath>
<g clip-path="url(#hb5)" stroke="#0c0a09" stroke-width="1.1">
<line x1="654.88" y1="345.5" x2="676.38" y2="324"/>
<line x1="662.54" y1="345.5" x2="684.04" y2="324"/>
<line x1="670.2" y1="345.5" x2="691.7" y2="324"/>
<line x1="677.86" y1="345.5" x2="699.36" y2="324"/>
<line x1="685.52" y1="345.5" x2="707.02" y2="324"/>
<line x1="693.18" y1="345.5" x2="714.68" y2="324"/>
<line x1="700.84" y1="345.5" x2="722.34" y2="324"/>
<line x1="708.5" y1="345.5" x2="730" y2="324"/>
<line x1="716.16" y1="345.5" x2="737.66" y2="324"/>
<line x1="723.82" y1="345.5" x2="745.32" y2="324"/>
<line x1="731.48" y1="345.5" x2="752.98" y2="324"/>
<line x1="739.14" y1="345.5" x2="760.64" y2="324"/>
</g>
<polygon points="671.7,329.3 677.4,324.7 734.9,324.7 740.6,329.3 740.6,345.5 671.7,345.5" fill="none" stroke="#0c0a09" stroke-width="1.25"/>
<rect x="703.6" y="285.5" width="5.1" height="17" fill="none" stroke="#0c0a09" stroke-width="1.05"/>
<line x1="645.2" y1="294.1" x2="744.4" y2="294.1" stroke="#0c0a09" stroke-width="0.9"/>
<line x1="706.1" y1="273.8" x2="706.1" y2="348.3" stroke="#0c0a09" stroke-width="0.9" stroke-dasharray="34 2.5 3 2.5" stroke-dashoffset="0"/>
<line x1="703.6" y1="257.5" x2="703.6" y2="285.5" stroke="#0c0a09" stroke-width="0.9"/>
<line x1="708.7" y1="257.5" x2="708.7" y2="285.5" stroke="#0c0a09" stroke-width="0.9"/>
<line x1="696.5" y1="259.8" x2="746.3" y2="259.8" stroke="#0c0a09" stroke-width="0.9"/>
<polygon points="703.6,259.8 700.2,260.85 700.2,258.75" fill="#0c0a09" stroke="none" stroke-width="0"/>
<polygon points="708.7,259.8 712.1,258.75 712.1,260.85" fill="#0c0a09" stroke="none" stroke-width="0"/>
<text x="717" y="258.9" font-size="6.0" text-anchor="start" fill="#0c0a09" stroke="#0c0a09" stroke-width="0.13" letter-spacing="0.4">0.3 ±0.15</text>
<line x1="644" y1="277.1" x2="671.7" y2="277.1" stroke="#0c0a09" stroke-width="0.9"/>
<line x1="646.6" y1="277.1" x2="646.6" y2="294.1" stroke="#0c0a09" stroke-width="0.9"/>
<polygon points="646.6,277.1 647.65,281.6 645.55,281.6" fill="#0c0a09" stroke="none" stroke-width="0"/>
<polygon points="646.6,294.1 645.55,289.6 647.65,289.6" fill="#0c0a09" stroke="none" stroke-width="0"/>
<text x="645" y="285.6" font-size="6.0" text-anchor="middle" fill="#0c0a09" stroke="#0c0a09" stroke-width="0.13" letter-spacing="0.4" transform="rotate(-90 645 285.6)">1</text>
<line x1="655" y1="285.5" x2="703.6" y2="285.5" stroke="#0c0a09" stroke-width="0.9"/>
<line x1="655" y1="302.5" x2="703.6" y2="302.5" stroke="#0c0a09" stroke-width="0.9"/>
<line x1="657.5" y1="285.5" x2="657.5" y2="302.5" stroke="#0c0a09" stroke-width="0.9"/>
<polygon points="657.5,285.5 658.55,290 656.45,290" fill="#0c0a09" stroke="none" stroke-width="0"/>
<polygon points="657.5,302.5 656.45,298 658.55,298" fill="#0c0a09" stroke="none" stroke-width="0"/>
<line x1="657.5" y1="302.5" x2="657.5" y2="313" stroke="#0c0a09" stroke-width="0.9"/>
<text x="655.9" y="310" font-size="6.0" text-anchor="middle" fill="#0c0a09" stroke="#0c0a09" stroke-width="0.13" letter-spacing="0.4" transform="rotate(-90 655.9 310)">1</text>
<text x="705.2" y="361.3" font-size="6.2" text-anchor="middle" fill="#0c0a09" stroke="#0c0a09" stroke-width="0.12" letter-spacing="0.45">截面图 A-A</text>
<text x="706.2" y="369.3" font-size="6.2" text-anchor="middle" fill="#0c0a09" stroke="#0c0a09" stroke-width="0.12" letter-spacing="0.45">(受光侧)</text>
<text x="295" y="409.2" font-size="10.3" text-anchor="middle" fill="#0c0a09" stroke="#0c0a09" stroke-width="0.2">内部电路</text>
<rect x="246" y="421.9" width="95.8" height="95.3" fill="none" stroke="#0c0a09" stroke-width="1.05"/>
<polyline points="239.2,436 263.3,436 263.3,503.7 239.2,503.7" fill="none" stroke="#0c0a09" stroke-width="1.05"/>
<line x1="239.2" y1="485.3" x2="263.3" y2="485.3" stroke="#0c0a09" stroke-width="1.05"/>
<circle cx="263.2" cy="485.3" r="2.0" fill="#0c0a09"/>
<polygon points="259.4,467.4 267.2,467.4 263.3,473.2" fill="#fff" stroke="#0c0a09" stroke-width="1.05"/>
<line x1="259.2" y1="473.3" x2="267.4" y2="473.3" stroke="#0c0a09" stroke-width="1.05"/>
<line x1="270.8" y1="466.4" x2="280" y2="466.4" stroke="#0c0a09" stroke-width="1.05"/>
<polyline points="276.6,464.7 280.6,466.4 276.6,468.1" fill="none" stroke="#0c0a09" stroke-width="1.05"/>
<line x1="270.8" y1="473.1" x2="280" y2="473.1" stroke="#0c0a09" stroke-width="1.05"/>
<polyline points="276.6,471.4 280.6,473.1 276.6,474.8" fill="none" stroke="#0c0a09" stroke-width="1.05"/>
<polygon points="283.4,473.8 291.4,473.8 287.4,467.2" fill="#fff" stroke="#0c0a09" stroke-width="1.05"/>
<line x1="283.2" y1="467" x2="291.6" y2="467" stroke="#0c0a09" stroke-width="1.05"/>
<polyline points="287.4,467 287.4,462.8 293.2,462.8" fill="none" stroke="#0c0a09" stroke-width="1.05"/>
<polyline points="287.4,473.8 287.4,476.7 293.2,476.7" fill="none" stroke="#0c0a09" stroke-width="1.05"/>
<polygon points="293.3,449.5 293.3,487.2 320.6,469" fill="none" stroke="#0c0a09" stroke-width="1.05"/>
<polygon points="296.4,463.6 302.2,462.9 305.8,475 300,475.5" fill="none" stroke="#0c0a09" stroke-width="1.15"/>
<line x1="305.5" y1="475" x2="307.3" y2="475" stroke="#0c0a09" stroke-width="1.05"/>
<line x1="295.6" y1="463.5" x2="296.8" y2="463.5" stroke="#0c0a09" stroke-width="1.05"/>
<polyline points="348.6,448 307.3,448 307.3,459" fill="none" stroke="#0c0a09" stroke-width="1.05"/>
<polyline points="307.3,477.5 307.3,503.7 348.6,503.7" fill="none" stroke="#0c0a09" stroke-width="1.05"/>
<line x1="320.8" y1="452.6" x2="320.8" y2="483.9" stroke="#0c0a09" stroke-width="1.3"/>
<polyline points="320.8,459.4 331.2,452.6 331.2,436 348.6,436" fill="none" stroke="#0c0a09" stroke-width="1.05"/>
<polyline points="320.8,476.7 331.2,483.5 331.2,503.7" fill="none" stroke="#0c0a09" stroke-width="1.05"/>
<circle cx="329.4" cy="482.2" r="1.9" fill="#0c0a09"/>
<circle cx="331.1" cy="503.9" r="2.0" fill="#0c0a09"/>
<circle cx="236.3" cy="436" r="3.1" fill="#fff" stroke="#0c0a09" stroke-width="1.05"/>
<circle cx="236.3" cy="485.3" r="3.1" fill="#fff" stroke="#0c0a09" stroke-width="1.05"/>
<circle cx="236.3" cy="503.7" r="3.1" fill="#fff" stroke="#0c0a09" stroke-width="1.05"/>
<circle cx="351.5" cy="436" r="3.1" fill="#fff" stroke="#0c0a09" stroke-width="1.05"/>
<circle cx="351.5" cy="448" r="3.1" fill="#fff" stroke="#0c0a09" stroke-width="1.05"/>
<circle cx="351.5" cy="503.7" r="3.1" fill="#fff" stroke="#0c0a09" stroke-width="1.05"/>
<text x="224.9" y="438.9" font-size="8.5" text-anchor="middle" fill="#0c0a09" stroke="#0c0a09" stroke-width="0.1">(1)</text>
<text x="224.9" y="488.2" font-size="8.5" text-anchor="middle" fill="#0c0a09" stroke="#0c0a09" stroke-width="0.1">(2)</text>
<text x="224.9" y="506.6" font-size="8.5" text-anchor="middle" fill="#0c0a09" stroke="#0c0a09" stroke-width="0.1">(3)</text>
<text x="364.5" y="438.9" font-size="8.5" text-anchor="middle" fill="#0c0a09" stroke="#0c0a09" stroke-width="0.1">(6)</text>
<text x="364.5" y="450.9" font-size="8.5" text-anchor="middle" fill="#0c0a09" stroke="#0c0a09" stroke-width="0.1">(5)</text>
<text x="364.5" y="506.6" font-size="8.5" text-anchor="middle" fill="#0c0a09" stroke="#0c0a09" stroke-width="0.1">(4)</text>
<clipPath id="pd1"><rect x="541.4" y="421.6" width="34.3" height="17.8"/></clipPath>
<g clip-path="url(#pd1)" stroke="#0c0a09" stroke-width="0.95">
<line x1="528.05" y1="439.4" x2="545.85" y2="421.6"/>
<line x1="537.7" y1="439.4" x2="555.5" y2="421.6"/>
<line x1="547.35" y1="439.4" x2="565.15" y2="421.6"/>
<line x1="557" y1="439.4" x2="574.8" y2="421.6"/>
<line x1="566.65" y1="439.4" x2="584.45" y2="421.6"/>
<line x1="528" y1="421.6" x2="545.8" y2="439.4"/>
<line x1="537.65" y1="421.6" x2="555.45" y2="439.4"/>
<line x1="547.3" y1="421.6" x2="565.1" y2="439.4"/>
<line x1="556.95" y1="421.6" x2="574.75" y2="439.4"/>
<line x1="566.6" y1="421.6" x2="584.4" y2="439.4"/>
</g>
<rect x="541.4" y="421.6" width="34.3" height="17.8" fill="none" stroke="#0c0a09" stroke-width="1.5"/>
<clipPath id="pd2"><rect x="541.4" y="445.5" width="34.3" height="17.9"/></clipPath>
<g clip-path="url(#pd2)" stroke="#0c0a09" stroke-width="0.95">
<line x1="533" y1="463.4" x2="550.9" y2="445.5"/>
<line x1="542.65" y1="463.4" x2="560.55" y2="445.5"/>
<line x1="552.3" y1="463.4" x2="570.2" y2="445.5"/>
<line x1="561.95" y1="463.4" x2="579.85" y2="445.5"/>
<line x1="571.6" y1="463.4" x2="589.5" y2="445.5"/>
<line x1="532.6" y1="445.5" x2="550.5" y2="463.4"/>
<line x1="542.25" y1="445.5" x2="560.15" y2="463.4"/>
<line x1="551.9" y1="445.5" x2="569.8" y2="463.4"/>
<line x1="561.55" y1="445.5" x2="579.45" y2="463.4"/>
<line x1="571.2" y1="445.5" x2="589.1" y2="463.4"/>
</g>
<rect x="541.4" y="445.5" width="34.3" height="17.9" fill="none" stroke="#0c0a09" stroke-width="1.5"/>
<clipPath id="pd3"><rect x="541.4" y="469.3" width="34.3" height="17.8"/></clipPath>
<g clip-path="url(#pd3)" stroke="#0c0a09" stroke-width="0.95">
<line x1="528.6" y1="487.1" x2="546.4" y2="469.3"/>
<line x1="538.25" y1="487.1" x2="556.05" y2="469.3"/>
<line x1="547.9" y1="487.1" x2="565.7" y2="469.3"/>
<line x1="557.55" y1="487.1" x2="575.35" y2="469.3"/>
<line x1="567.2" y1="487.1" x2="585" y2="469.3"/>
<line x1="527.45" y1="469.3" x2="545.25" y2="487.1"/>
<line x1="537.1" y1="469.3" x2="554.9" y2="487.1"/>
<line x1="546.75" y1="469.3" x2="564.55" y2="487.1"/>
<line x1="556.4" y1="469.3" x2="574.2" y2="487.1"/>
<line x1="566.05" y1="469.3" x2="583.85" y2="487.1"/>
</g>
<rect x="541.4" y="469.3" width="34.3" height="17.8" fill="none" stroke="#0c0a09" stroke-width="1.5"/>
<clipPath id="pd4"><rect x="623.3" y="421.6" width="34.3" height="17.8"/></clipPath>
<g clip-path="url(#pd4)" stroke="#0c0a09" stroke-width="0.95">
<line x1="614.9" y1="439.4" x2="632.7" y2="421.6"/>
<line x1="624.55" y1="439.4" x2="642.35" y2="421.6"/>
<line x1="634.2" y1="439.4" x2="652" y2="421.6"/>
<line x1="643.85" y1="439.4" x2="661.65" y2="421.6"/>
<line x1="653.5" y1="439.4" x2="671.3" y2="421.6"/>
<line x1="614.85" y1="421.6" x2="632.65" y2="439.4"/>
<line x1="624.5" y1="421.6" x2="642.3" y2="439.4"/>
<line x1="634.15" y1="421.6" x2="651.95" y2="439.4"/>
<line x1="643.8" y1="421.6" x2="661.6" y2="439.4"/>
<line x1="653.45" y1="421.6" x2="671.25" y2="439.4"/>
</g>
<rect x="623.3" y="421.6" width="34.3" height="17.8" fill="none" stroke="#0c0a09" stroke-width="1.5"/>
<clipPath id="pd5"><rect x="623.3" y="445.5" width="34.3" height="17.9"/></clipPath>
<g clip-path="url(#pd5)" stroke="#0c0a09" stroke-width="0.95">
<line x1="610.2" y1="463.4" x2="628.1" y2="445.5"/>
<line x1="619.85" y1="463.4" x2="637.75" y2="445.5"/>
<line x1="629.5" y1="463.4" x2="647.4" y2="445.5"/>
<line x1="639.15" y1="463.4" x2="657.05" y2="445.5"/>
<line x1="648.8" y1="463.4" x2="666.7" y2="445.5"/>
<line x1="609.8" y1="445.5" x2="627.7" y2="463.4"/>
<line x1="619.45" y1="445.5" x2="637.35" y2="463.4"/>
<line x1="629.1" y1="445.5" x2="647" y2="463.4"/>
<line x1="638.75" y1="445.5" x2="656.65" y2="463.4"/>
<line x1="648.4" y1="445.5" x2="666.3" y2="463.4"/>
</g>
<rect x="623.3" y="445.5" width="34.3" height="17.9" fill="none" stroke="#0c0a09" stroke-width="1.5"/>
<clipPath id="pd6"><rect x="623.3" y="469.3" width="34.3" height="17.8"/></clipPath>
<g clip-path="url(#pd6)" stroke="#0c0a09" stroke-width="0.95">
<line x1="605.8" y1="487.1" x2="623.6" y2="469.3"/>
<line x1="615.45" y1="487.1" x2="633.25" y2="469.3"/>
<line x1="625.1" y1="487.1" x2="642.9" y2="469.3"/>
<line x1="634.75" y1="487.1" x2="652.55" y2="469.3"/>
<line x1="644.4" y1="487.1" x2="662.2" y2="469.3"/>
<line x1="654.05" y1="487.1" x2="671.85" y2="469.3"/>
<line x1="614.3" y1="469.3" x2="632.1" y2="487.1"/>
<line x1="623.95" y1="469.3" x2="641.75" y2="487.1"/>
<line x1="633.6" y1="469.3" x2="651.4" y2="487.1"/>
<line x1="643.25" y1="469.3" x2="661.05" y2="487.1"/>
<line x1="652.9" y1="469.3" x2="670.7" y2="487.1"/>
</g>
<rect x="623.3" y="469.3" width="34.3" height="17.8" fill="none" stroke="#0c0a09" stroke-width="1.5"/>
<line x1="599.7" y1="418" x2="599.7" y2="490.5" stroke="#0c0a09" stroke-width="0.9"/>
<line x1="535.7" y1="454.4" x2="663" y2="454.4" stroke="#0c0a09" stroke-width="0.9"/>
<line x1="541.4" y1="487" x2="541.4" y2="505.5" stroke="#0c0a09" stroke-width="0.9"/>
<line x1="575.7" y1="487" x2="575.7" y2="505.5" stroke="#0c0a09" stroke-width="0.9"/>
<line x1="623.3" y1="487" x2="623.3" y2="505.5" stroke="#0c0a09" stroke-width="0.9"/>
<line x1="657.6" y1="487" x2="657.6" y2="505.5" stroke="#0c0a09" stroke-width="0.9"/>
<line x1="541.4" y1="503.1" x2="657.6" y2="503.1" stroke="#0c0a09" stroke-width="0.9"/>
<polygon points="541.4,503.1 545.6,502.15 545.6,504.05" fill="#0c0a09" stroke="none" stroke-width="0"/>
<polygon points="575.7,503.1 579.9,502.15 579.9,504.05" fill="#0c0a09" stroke="none" stroke-width="0"/>
<polygon points="623.3,503.1 627.5,502.15 627.5,504.05" fill="#0c0a09" stroke="none" stroke-width="0"/>
<polygon points="575.7,503.1 571.5,504.05 571.5,502.15" fill="#0c0a09" stroke="none" stroke-width="0"/>
<polygon points="623.3,503.1 619.1,504.05 619.1,502.15" fill="#0c0a09" stroke="none" stroke-width="0"/>
<polygon points="657.6,503.1 653.4,504.05 653.4,502.15" fill="#0c0a09" stroke="none" stroke-width="0"/>
<text x="557.8" y="502.2" font-size="6.0" text-anchor="middle" fill="#0c0a09" stroke="#0c0a09" stroke-width="0.13" letter-spacing="0.4">2</text>
<text x="599.4" y="502.2" font-size="6.0" text-anchor="middle" fill="#0c0a09" stroke="#0c0a09" stroke-width="0.13" letter-spacing="0.4">3.1</text>
<text x="640" y="502.2" font-size="6.0" text-anchor="middle" fill="#0c0a09" stroke="#0c0a09" stroke-width="0.13" letter-spacing="0.4">2</text>
<line x1="657.6" y1="421.6" x2="693.8" y2="421.6" stroke="#0c0a09" stroke-width="0.9"/>
<line x1="657.6" y1="439.4" x2="693.8" y2="439.4" stroke="#0c0a09" stroke-width="0.9"/>
<line x1="692" y1="421.6" x2="692" y2="439.4" stroke="#0c0a09" stroke-width="0.9"/>
<polygon points="692,421.6 692.95,425.8 691.05,425.8" fill="#0c0a09" stroke="none" stroke-width="0"/>
<polygon points="692,439.4 691.05,435.2 692.95,435.2" fill="#0c0a09" stroke="none" stroke-width="0"/>
<text x="689.9" y="430.5" font-size="6.0" text-anchor="middle" fill="#0c0a09" stroke="#0c0a09" stroke-width="0.13" letter-spacing="0.4" transform="rotate(-90 689.9 430.5)">1</text>
<line x1="657.6" y1="445.5" x2="693.8" y2="445.5" stroke="#0c0a09" stroke-width="0.9"/>
<line x1="657.6" y1="463.4" x2="693.8" y2="463.4" stroke="#0c0a09" stroke-width="0.9"/>
<line x1="692" y1="445.5" x2="692" y2="463.4" stroke="#0c0a09" stroke-width="0.9"/>
<polygon points="692,445.5 692.95,449.7 691.05,449.7" fill="#0c0a09" stroke="none" stroke-width="0"/>
<polygon points="692,463.4 691.05,459.2 692.95,459.2" fill="#0c0a09" stroke="none" stroke-width="0"/>
<text x="689.9" y="454.45" font-size="6.0" text-anchor="middle" fill="#0c0a09" stroke="#0c0a09" stroke-width="0.13" letter-spacing="0.4" transform="rotate(-90 689.9 454.45)">1</text>
<line x1="657.6" y1="469.3" x2="693.8" y2="469.3" stroke="#0c0a09" stroke-width="0.9"/>
<line x1="657.6" y1="487.1" x2="693.8" y2="487.1" stroke="#0c0a09" stroke-width="0.9"/>
<line x1="692" y1="469.3" x2="692" y2="487.1" stroke="#0c0a09" stroke-width="0.9"/>
<polygon points="692,469.3 692.95,473.5 691.05,473.5" fill="#0c0a09" stroke="none" stroke-width="0"/>
<polygon points="692,487.1 691.05,482.9 692.95,482.9" fill="#0c0a09" stroke="none" stroke-width="0"/>
<text x="689.9" y="478.2" font-size="6.0" text-anchor="middle" fill="#0c0a09" stroke="#0c0a09" stroke-width="0.13" letter-spacing="0.4" transform="rotate(-90 689.9 478.2)">1</text>
<line x1="670.7" y1="456" x2="670.7" y2="499.3" stroke="#0c0a09" stroke-width="0.9"/>
<polygon points="670.7,463.4 669.75,459.4 671.65,459.4" fill="#0c0a09" stroke="none" stroke-width="0"/>
<polygon points="670.7,469.3 671.65,473.3 669.75,473.3" fill="#0c0a09" stroke="none" stroke-width="0"/>
<line x1="678.3" y1="431.8" x2="678.3" y2="499.3" stroke="#0c0a09" stroke-width="0.9"/>
<polygon points="678.3,439.4 677.35,435.4 679.25,435.4" fill="#0c0a09" stroke="none" stroke-width="0"/>
<polygon points="678.3,445.5 679.25,449.5 677.35,449.5" fill="#0c0a09" stroke="none" stroke-width="0"/>
<text x="669.2" y="492.8" font-size="6.0" text-anchor="middle" fill="#0c0a09" stroke="#0c0a09" stroke-width="0.13" letter-spacing="0.4" transform="rotate(-90 669.2 492.8)">0.4</text>
<text x="676.8" y="492.8" font-size="6.0" text-anchor="middle" fill="#0c0a09" stroke="#0c0a09" stroke-width="0.13" letter-spacing="0.4" transform="rotate(-90 676.8 492.8)">0.4</text>
<g id="photo" filter="url(#soft)">
<polygon points="47.16,149.68 65.66,159.83 65.66,169.73 47.16,160.42" fill="#c8a562"/>
<polygon points="50.5,152.07 51.58,152.66 51.58,163.05 50.5,162.33" fill="#5a4a38"/>
<polygon points="57.67,155.89 58.86,156.6 58.86,166.63 57.67,165.91" fill="#5a4a38"/>
<polygon points="47.16,113.28 65.66,123.42 65.66,161.02 47.16,150.63" fill="#3d3d42"/>
<polygon points="51.94,116.02 53.13,116.74 53.13,154.22 51.94,153.38" fill="#2e2e32"/>
<polygon points="59.1,119.84 60.29,120.56 60.29,158.27 59.1,157.44" fill="#2e2e32"/>
<polygon points="47.16,113.28 54.92,111.01 62.68,111.48 81.18,121.03 79.99,122.23 65.66,123.66" fill="#7b7b80"/>
<polygon points="65.42,123.66 81.18,121.27 81.18,155.05 110.66,152.31 110.66,165.56 68.05,173.19 65.42,172.36" fill="#4e4e53"/>
<polygon points="65.42,123.66 71.27,122.82 71.27,172.6 68.05,173.19 65.42,172.36" fill="#5c5c62"/>
<polygon points="81.18,155.05 110.66,152.31 110.66,153.74 81.18,156.6" fill="#5e5e63"/>
<polygon points="71.27,147.29 73.42,147.05 73.42,156.84 71.27,157.08" fill="#1f1f22"/>
<polygon points="71.99,166.39 77,165.2 77.96,167.11 73.42,168.54" fill="#141416"/>
<polygon points="88.34,107.67 99.68,104.56 122.96,116.5 122.36,117.69 109.83,118.65" fill="#77777c"/>
<polygon points="88.34,107.9 109.83,118.41 109.83,152.66 88.34,142.28" fill="#3c3c41"/>
<polygon points="94.31,117.21 96.1,117.69 96.1,129.39 94.31,128.91" fill="#101012"/>
<polygon points="109.83,118.41 116.99,117.45 116.99,164.36 110.66,165.56 109.83,152.66" fill="#58585d"/>
<polygon points="116.99,117.45 122.96,116.86 122.96,163.29 116.99,164.36" fill="#48484d"/>
<polygon points="118.78,117.21 120.57,117.09 120.57,163.76 118.78,164" fill="#626267"/>
<polygon points="113.05,159.23 117.58,158.04 118.18,160.66 114,161.85" fill="#141416"/>
<polygon points="81.18,142.16 88.34,142.16 109.83,152.66 110.66,152.31 81.18,155.29" fill="#626267"/>
<ellipse cx="87.51" cy="148.49" rx="6.6" ry="3.7" fill="#2c2c30"/>
<polygon points="75.81,142.16 81.18,142.16 81.18,155.29 75.81,155.29" fill="#4e4e53"/>
<polygon points="186.11,161.26 208.55,149.92 208.55,161.26 186.11,172.6" fill="#c8a562"/>
<polygon points="193.27,157.56 195.42,156.48 195.42,168.06 193.27,169.14" fill="#4a4038"/>
<polygon points="201.39,153.38 203.3,152.43 203.3,164 201.39,164.96" fill="#4a4038"/>
<polygon points="130.37,115.3 155.44,104.32 166.78,106.71 166.78,108.14 147.08,118.29 142.9,118.29 133.95,116.98" fill="#75757a"/>
<polygon points="130.37,115.54 133.95,116.98 133.95,163.88 130.37,163.29" fill="#424247"/>
<polygon points="133.95,116.98 142.9,118.29 142.9,165.44 133.95,163.88" fill="#525257"/>
<polygon points="142.9,118.29 147.08,118.29 147.08,154.45 142.9,155.05" fill="#3c3c41"/>
<polygon points="147.08,118.29 166.78,108.14 166.78,143.12 147.08,153.86" fill="#3f3f44"/>
<polygon points="154.24,116.98 162.6,114.59 162.6,131.18 154.24,133.69" fill="#19191c"/>
<polygon points="134.79,141.32 136.34,141.56 136.34,150.28 134.79,149.92" fill="#1c1c1f"/>
<polygon points="135.15,158.04 139.92,158.63 139.92,161.02 135.15,160.42" fill="#121214"/>
<polygon points="147.08,153.86 166.78,143.12 171.55,143.95 171.55,159.95 142.9,154.69" fill="#5b5b60"/>
<polygon points="160.81,147.89 167.97,146.1 169.76,149.68 163.2,150.87" fill="#323236"/>
<polygon points="142.9,154.69 171.55,159.95 171.55,170.21 142.9,165.44" fill="#404045"/>
<polygon points="174.53,164.24 178.71,164.72 178.71,167.35 174.53,166.87" fill="#121214"/>
<polygon points="170.95,121.99 195.42,111.01 208.55,113.28 208.55,114.71 186.11,124.85 181.1,124.38" fill="#707075"/>
<polygon points="170.95,122.23 181.1,124.38 186.11,124.85 186.11,172.6 170.95,170.21" fill="#4d4d52"/>
<polygon points="177.52,123.9 181.1,124.38 181.1,171.76 177.52,171.16" fill="#3e3e43"/>
<polygon points="186.11,124.85 208.55,114.47 208.55,149.92 186.11,161.26" fill="#3b3b40"/>
<polygon points="190.05,123.42 190.89,123.06 190.89,158.99 190.05,159.47" fill="#26262a"/>
<polygon points="197.81,119.6 198.65,119.24 198.65,155.05 197.81,155.53" fill="#26262a"/>
<polygon points="191.84,125.81 196.62,123.66 196.62,149.68 191.84,152.07" fill="#4c3c3c" opacity="0.5"/>
<polygon points="199.6,122.23 207.36,118.65 207.36,144.91 199.6,148.49" fill="#4c3c3c" opacity="0.5"/>
</g>
</svg>
</body></html>
